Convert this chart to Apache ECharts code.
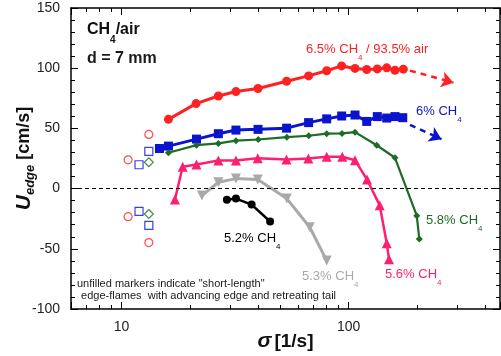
<!DOCTYPE html>
<html>
<head>
<meta charset="utf-8">
<script src="https://cdn.jsdelivr.net/npm/echarts@6/dist/echarts.min.js"></script>
<style>
    html, body { margin: 0; padding: 0; background: #fff; }
    #chart { width: 501px; height: 356px; }
</style>
</head>
<body>
<div id="chart"></div>
<script>
// strain rate sigma [1/s] and edge speed U [cm/s]
const sig65 = [16.1, 21.3, 26.7, 31.9, 39.9, 53.3, 66.6, 80.0, 93.1, 106.6, 120, 133.6, 147, 159.8, 173.9];
const u65 = [57.5, 70.6, 76.9, 80.6, 83.1, 89.2, 93.6, 97.9, 101.9, 99.8, 98.9, 99.4, 100.3, 98.3, 99.2];
const sig60 = [14.7, 16.1, 21.4, 26.7, 31.9, 39.9, 53.3, 66.6, 80.0, 93.1, 106.6, 120, 133.6, 147, 159.8, 172.9];
const u60 = [33.3, 35.3, 41.1, 45.6, 48.6, 49.2, 50.2, 54.8, 57.9, 60.3, 61.1, 55.8, 59.8, 58.6, 59.8, 58.9];
const sig58 = [16.1, 21.4, 26.7, 31.9, 40.0, 53.4, 66.7, 80.0, 93.4, 106.6, 132.8, 159.8, 199.2, 204.5];
const u58 = [29.8, 36.1, 37.5, 39.8, 40.8, 42.7, 43.9, 45.6, 45.8, 46.9, 36.0, 25.6, -22.5, -41.9];
const sig56 = [17.2, 18.6, 21.4, 26.7, 31.9, 39.8, 53.2, 66.4, 80.0, 93.7, 106.6, 120.4, 136.9, 147, 150.4];
const u56 = [-9.0, 18.1, 20.0, 23.3, 23.3, 25.3, 24.2, 25.0, 26.4, 26.4, 23.6, 7.5, -13.9, -45.4, -58.6];
const sig53 = [22.6, 26.7, 31.9, 39.8, 53.4, 67.4, 80.0];
const u53 = [-5.8, 5.3, 8.3, 7.5, -8.3, -32.1, -59.8];
const sig52 = [29.1, 31.9, 37.4, 45.1];
const u52 = [-9.2, -8.3, -13.3, -27.3];

// unfilled markers ("short-length" edge-flames)
const openSig65 = [13.2, 10.7, 10.7, 13.2];
const openU65 = [45.0, 23.9, -23.3, -44.8];
const openSig60 = [13.2, 11.95, 11.95, 13.2];
const openU60 = [31.0, 19.8, -18.9, -30.6];
const openSig58 = [13.2, 13.2];
const openU58 = [21.9, -21.1];

// dashed trend arrows: [start, end]
const arrowSig65 = [186, 289];
const arrowU65 = [98, 88];
const arrowSig60 = [186, 256];
const arrowU60 = [53, 41];

const minorTicks = [7, 8, 9, 20, 30, 40, 50, 60, 70, 80, 90, 200, 300, 400];

const RED = '#ff2121';
const BLUE = '#0a14cc';
const GREEN = '#1d6b24';
const PINK = '#ff1f72';
const GRAY = '#a9a9a9';
const BLACK = '#000';
const FONT = 'Liberation Sans';

const zip = (xs, ys) => xs.map((x, i) => [x, ys[i]]);

const lineSeries = (sig, u, color, symbol, size, width, extra) => Object.assign({
    type: 'line',
    data: zip(sig, u),
    symbol: symbol,
    symbolSize: size,
    color: color,
    lineStyle: { color: color, width: width },
    itemStyle: { color: color },
    z: 3,
    animation: false
}, extra || {});

const openSeries = (sig, u, color, symbol, size) => ({
    type: 'scatter',
    data: zip(sig, u),
    symbol: symbol,
    symbolSize: size,
    itemStyle: { color: 'rgba(0,0,0,0)', borderColor: color, borderWidth: 1.2 },
    animation: false
});

const arrowLine = (sig, u, color, curve) => ({
    silent: true,
    symbol: ['none', 'arrow'],
    symbolSize: 12,
    label: { show: false },
    lineStyle: { color: color, width: 2.5, type: [6, 5], curveness: curve },
    data: [[{ coord: [sig[0], u[0]] }, { coord: [sig[1], u[1]] }]],
    animation: false
});

// text with CH4 subscript
const chText = (pre, post, x, y, color, size, bold, drop) => ({
    type: 'text',
    x: x,
    y: y,
    style: {
        text: '{m|' + pre + '}{s|4}{m|' + post + '}',
        fill: color,
        verticalAlign: 'middle',
        align: 'left',
        rich: {
            m: { fontFamily: FONT, fontSize: size, fontWeight: bold ? 'bold' : 'normal', lineHeight: drop * 2 + 10, fill: color },
            s: { fontFamily: FONT, fontSize: Math.round(size * 0.65), fontWeight: bold ? 'bold' : 'normal', lineHeight: 10, verticalAlign: 'bottom', fill: color }
        }
    }
});

const plainText = (txt, x, y, size, bold) => ({
    type: 'text',
    x: x,
    y: y,
    style: {
        text: txt,
        fill: '#1a1a1a',
        font: (bold ? 'bold ' : '') + size + 'px ' + FONT,
        verticalAlign: 'middle',
        align: 'left'
    }
});

const tickLog = (pos) => ({
    type: 'log',
    logBase: 10,
    min: 6,
    max: 463,
    position: pos,
    offset: 0,
    axisLine: { onZero: false, lineStyle: { color: '#000', width: 1.5 } },
    axisTick: { inside: true, length: 7, lineStyle: { color: '#000', width: 1 } },
    axisLabel: {
        show: pos === 'bottom',
        fontFamily: FONT,
        fontSize: 14,
        color: '#222',
        margin: 11,
        formatter: v => (Math.abs(v - 10) < 1e-6 || Math.abs(v - 100) < 1e-6) ? String(Math.round(v)) : ''
    },
    splitLine: { show: false }
});

const tickMinor = (pos) => ({
    type: 'value',
    min: Math.log10(6),
    max: Math.log10(463),
    position: pos,
    offset: 0,
    axisLine: { show: false, onZero: false },
    axisTick: { inside: true, length: 4, customValues: minorTicks.map(v => Math.log10(v)), lineStyle: { color: '#000', width: 1 } },
    axisLabel: { show: false },
    splitLine: { show: false }
});

const yAx = (pos) => ({
    type: 'value',
    min: -100,
    max: 150,
    interval: 50,
    position: pos,
    axisLine: { show: true, onZero: false, lineStyle: { color: '#000', width: 1.5 } },
    axisTick: { show: true, inside: true, length: 7, lineStyle: { color: '#000', width: 1 } },
    minorTick: { show: true, splitNumber: 5, length: 4, lineStyle: { color: '#000', width: 1 } },
    axisLabel: { show: pos === 'left', fontFamily: FONT, fontSize: 14, color: '#222', margin: 11 },
    splitLine: { show: false }
});

const xMain = tickLog('bottom');
xMain.name = '{s|σ}{t|[1/s]}';
xMain.nameLocation = 'middle';
xMain.nameGap = 22;
xMain.nameMoveOverlap = false;
xMain.nameTextStyle = {
    rich: {
        s: { fontFamily: FONT, fontSize: 21, fontWeight: 'bold', fontStyle: 'italic', color: '#111', padding: [0, 3, 0, 0] },
        t: { fontFamily: FONT, fontSize: 19, fontWeight: 'bold', color: '#111' }
    }
};

const yMain = yAx('left');
yMain.name = '{u|U}{e|edge}{t| [cm/s]}';
yMain.nameLocation = 'middle';
yMain.nameRotate = 90;
yMain.nameGap = 34;
yMain.nameMoveOverlap = false;
yMain.nameTextStyle = {
    rich: {
        u: { fontFamily: FONT, fontSize: 21, fontWeight: 'bold', fontStyle: 'italic', color: '#111', lineHeight: 26 },
        e: { fontFamily: FONT, fontSize: 13, fontWeight: 'bold', fontStyle: 'italic', color: '#111', lineHeight: 12, verticalAlign: 'bottom' },
        t: { fontFamily: FONT, fontSize: 18, fontWeight: 'bold', color: '#111', lineHeight: 26 }
    }
};

const option = {
    backgroundColor: '#fff',
    animation: false,
    grid: { left: 71, right: 1, top: 8, bottom: 47, containLabel: false, outerBoundsMode: 'none' },
    xAxis: [xMain, tickMinor('bottom'), tickLog('top'), tickMinor('top')],
    yAxis: [yMain, yAx('right')],
    graphic: [
        chText('CH', '/air', 87, 30, '#111', 16, true, 10),
        plainText('d = 7 mm', 87, 59, 16, true),
        chText('6.5% CH', ' / 93.5% air', 306, 49, RED, 13, false, 8),
        chText('6% CH', '', 416, 111, BLUE, 13, false, 8),
        chText('5.8% CH', '', 426, 220, GREEN, 13, false, 8),
        chText('5.6% CH', '', 385, 274, PINK, 13, false, 8),
        chText('5.3% CH', '', 302, 276, GRAY, 13, false, 8),
        chText('5.2% CH', '', 224, 238, BLACK, 13, false, 8),
        plainText('unfilled markers indicate "short-length"', 77, 284, 11, false),
        plainText(' edge-flames  with advancing edge and retreating tail', 78, 296, 11, false)
    ],
    series: [
        lineSeries(sig65, u65, RED, 'circle', 9, 3, { markLine: arrowLine(arrowSig65, arrowU65, RED, 0.15) }),
        lineSeries(sig60, u60, BLUE, 'rect', 9, 3, { markLine: arrowLine(arrowSig60, arrowU60, BLUE, 0.15) }),
        lineSeries(sig58, u58, GREEN, 'diamond', 7, 2.2),
        lineSeries(sig56, u56, PINK, 'triangle', 10, 2.5),
        lineSeries(sig53, u53, GRAY, 'triangle', 10, 3, { symbolRotate: 180 }),
        lineSeries(sig52, u52, BLACK, 'circle', 8, 2.5, {
            markLine: {
                silent: true,
                symbol: 'none',
                label: { show: false },
                lineStyle: { color: '#000', width: 1, type: [4, 3] },
                data: [{ yAxis: 0 }],
                animation: false
            }
        }),
        openSeries(openSig65, openU65, RED, 'circle', 8),
        openSeries(openSig60, openU60, BLUE, 'rect', 8),
        openSeries(openSig58, openU58, GREEN, 'diamond', 9)
    ]
};

const chart = echarts.init(document.getElementById('chart'), null, { renderer: 'canvas' });
chart.setOption(option);
</script>
</body>
</html>
